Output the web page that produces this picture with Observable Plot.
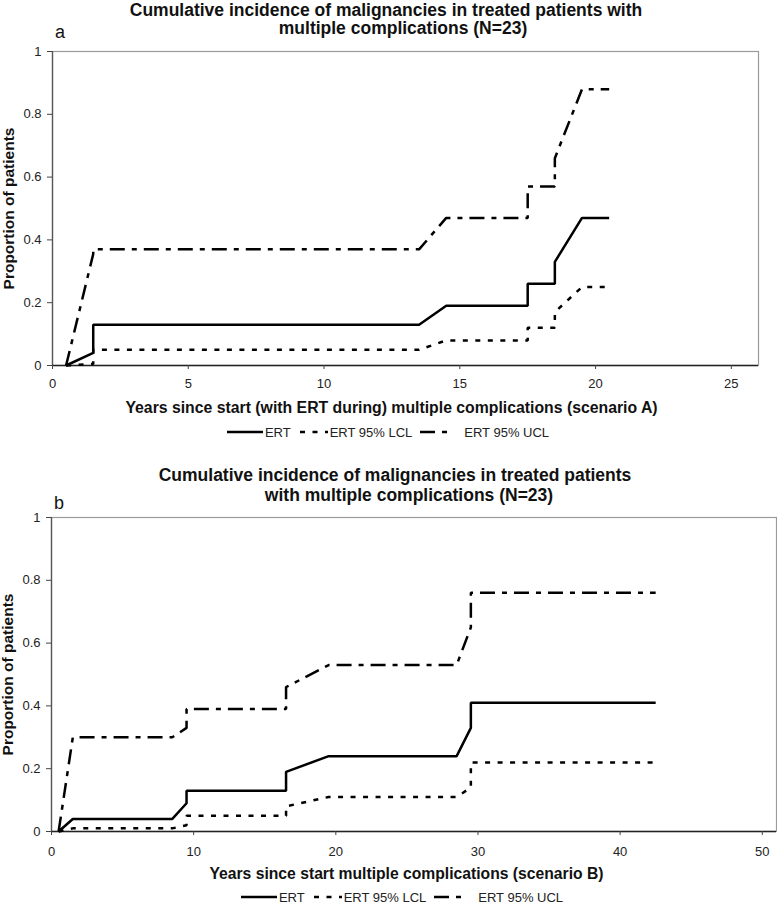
<!DOCTYPE html>
<html><head><meta charset="utf-8">
<script src="https://cdn.jsdelivr.net/npm/d3@7"></script>
<script src="https://cdn.jsdelivr.net/npm/@observablehq/plot@0.6"></script>
<style>
body{margin:0;background:#fff;font-family:"Liberation Sans",Arial,sans-serif;color:#111;}
#wrap{position:relative;width:777px;height:909px;overflow:hidden;}
.abs{position:absolute;}
.title{width:777px;font-weight:bold;font-size:17.5px;line-height:20px;text-align:center;white-space:nowrap;}
.tag{font-size:18px;line-height:18px;}
.legend{width:777px;height:20px;display:flex;align-items:center;justify-content:center;font-size:13px;color:#222;white-space:nowrap;}
.legend svg{display:block;}
.legend span{margin:0 6px 0 2px;}
</style></head>
<body><div id="wrap"></div>
<script>
// ---- data ----
const titleA = ["Cumulative incidence of malignancies in treated patients with", "multiple complications (N=23)"];
const titleB = ["Cumulative incidence of malignancies in treated patients", "with multiple complications (N=23)"];
const xLabelA = "Years since start (with ERT during) multiple complications (scenario A)";
const xLabelB = "Years since start multiple complications (scenario B)";
const yLabel = "Proportion of patients";
const seriesNames = ["ERT", "ERT 95% LCL", "ERT 95% UCL"];
const yTicks = [0, 0.2, 0.4, 0.6, 0.8, 1];
const xTicksA = [0, 5, 10, 15, 20, 25];
const xTicksB = [0, 10, 20, 30, 40, 50];

const xA   = [0.5, 1.5, 1.5, 13.5, 14.5, 17.5, 17.5, 18.5, 18.5, 19.5, 20.5];
const ertA = [0, 0.04, 0.13, 0.13, 0.19, 0.19, 0.26, 0.26, 0.33, 0.47, 0.47];
const lclA = [0, 0.005, 0.05, 0.05, 0.08, 0.08, 0.12, 0.12, 0.17, 0.25, 0.25];
const uclA = [0, 0.355, 0.37, 0.37, 0.47, 0.47, 0.57, 0.57, 0.66, 0.88, 0.88];

const xB   = [0.5, 1.5, 8.5, 9.5, 9.5, 16.5, 16.5, 19.5, 28.5, 29.5, 29.5, 42.5];
const ertB = [0, 0.04, 0.04, 0.09, 0.13, 0.13, 0.19, 0.24, 0.24, 0.33, 0.41, 0.41];
const lclB = [0, 0.01, 0.01, 0.02, 0.05, 0.05, 0.08, 0.11, 0.11, 0.14, 0.22, 0.22];
const uclB = [0, 0.30, 0.30, 0.33, 0.39, 0.39, 0.46, 0.53, 0.53, 0.65, 0.76, 0.76];

const styles = [
  {dash: null, width: 2.5},
  {dash: "5,7.5", width: 2.5},
  {dash: "15,7,5,7", width: 2.5}
];

function toRows(xs, ys){ return xs.map((x,i)=>({x, y: ys[i]})); }

function chart({xs, series, xmax, xTicks, xLabel, mL, mR, mT, mB, labelCx, tickPad, labelSize}){
  const marks = [
    Plot.frame({stroke:"#9a9a9a", strokeWidth:1.2}),
    Plot.ruleX([0], {stroke:"#555", strokeWidth:1.3}),
    Plot.ruleY([0], {stroke:"#222", strokeWidth:1.3}),
    Plot.axisX({ticks:xTicks, tickSize:4, tickPadding:tickPad, label:null, fontSize:13, stroke:"#444"}),
    Plot.axisY({ticks:yTicks, tickSize:5, tickPadding:6, label:null, fontSize:13, tickFormat:d=>String(d), stroke:"#444"})
  ];
  series.forEach((ys, i) => {
    marks.push(Plot.line(toRows(xs, ys), {x:"x", y:"y", stroke:"#000", strokeWidth:styles[i].width,
      strokeDasharray: styles[i].dash || undefined, strokeLinecap:"butt", strokeLinejoin:"miter"}));
  });
  marks.push(Plot.text([xLabel], {text:d=>d, frameAnchor:"bottom-left", dx: labelCx - mL, dy: 42,
    textAnchor:"middle", lineAnchor:"middle", fontWeight:"bold", fontSize:labelSize, fill:"#111"}));
  marks.push(Plot.text([yLabel], {text:d=>d, frameAnchor:"left", dx: -43, rotate:-90,
    textAnchor:"middle", lineAnchor:"middle", fontWeight:"bold", fontSize:15.5, fill:"#111"}));
  return Plot.plot({
    width:777, height:382, marginLeft:mL, marginRight:mR, marginTop:mT, marginBottom:mB,
    style:{fontFamily:"'Liberation Sans', Arial, sans-serif", color:"#222", background:"#fff"},
    x:{domain:[0, xmax]}, y:{domain:[0, 1]},
    marks
  });
}

function legend(cx){
  const d = document.createElement("div");
  d.className = "legend abs";
  const ns = "http://www.w3.org/2000/svg";
  const lens = [36, 28, 34];
  seriesNames.forEach((name, i) => {
    const s = document.createElementNS(ns, "svg");
    s.setAttribute("width", lens[i]); s.setAttribute("height", 8);
    const l = document.createElementNS(ns, "line");
    l.setAttribute("x1", 0); l.setAttribute("x2", lens[i]); l.setAttribute("y1", 4); l.setAttribute("y2", 4);
    l.setAttribute("stroke", "#000"); l.setAttribute("stroke-width", 2.5);
    if (styles[i].dash) l.setAttribute("stroke-dasharray", i === 1 ? "5,7.5" : "15,7,5,7");
    s.appendChild(l);
    const t = document.createElement("span"); t.textContent = name;
    if (i === 1) { s.style.marginLeft = "3px"; }
    if (i === 2) { s.style.marginLeft = "2px"; t.style.marginLeft = "10px"; }
    d.appendChild(s); d.appendChild(t);
  });
  d.style.left = (cx - 388.5) + "px";
  return d;
}

const wrap = document.getElementById("wrap");
function place(el, top, left){ el.classList.add("abs"); el.style.top = top + "px"; if (left !== undefined) el.style.left = left + "px"; wrap.appendChild(el); }

function titleLine(text, cx){
  const d = document.createElement("div"); d.className = "title";
  d.textContent = text;
  d.style.left = (cx - 388.5) + "px";
  return d;
}
function tag(t){ const d = document.createElement("div"); d.className = "tag"; d.textContent = t; return d; }

// panel a
const svgA = chart({xs:xA, series:[ertA, lclA, uclA], xmax:26, xTicks:xTicksA, xLabel:xLabelA,
  mL:52, mR:19, mT:11, mB:57, labelCx:391, tickPad:9, labelSize:15.8});
place(svgA, 40, 0);
place(titleLine(titleA[0], 386), 0);
place(titleLine(titleA[1], 403), 18);
place(tag("a"), 23, 55);
place(legend(391), 422);

// panel b
const svgB = chart({xs:xB, series:[ertB, lclB, uclB], xmax:51, xTicks:xTicksB, xLabel:xLabelB,
  mL:51, mR:1, mT:12, mB:56, labelCx:406, tickPad:11, labelSize:15.7});
place(svgB, 505, 0);
place(titleLine(titleB[0], 395), 464.5);
place(titleLine(titleB[1], 409), 485.3);
place(tag("b"), 494, 54);
place(legend(405), 887);
</script></body></html>
